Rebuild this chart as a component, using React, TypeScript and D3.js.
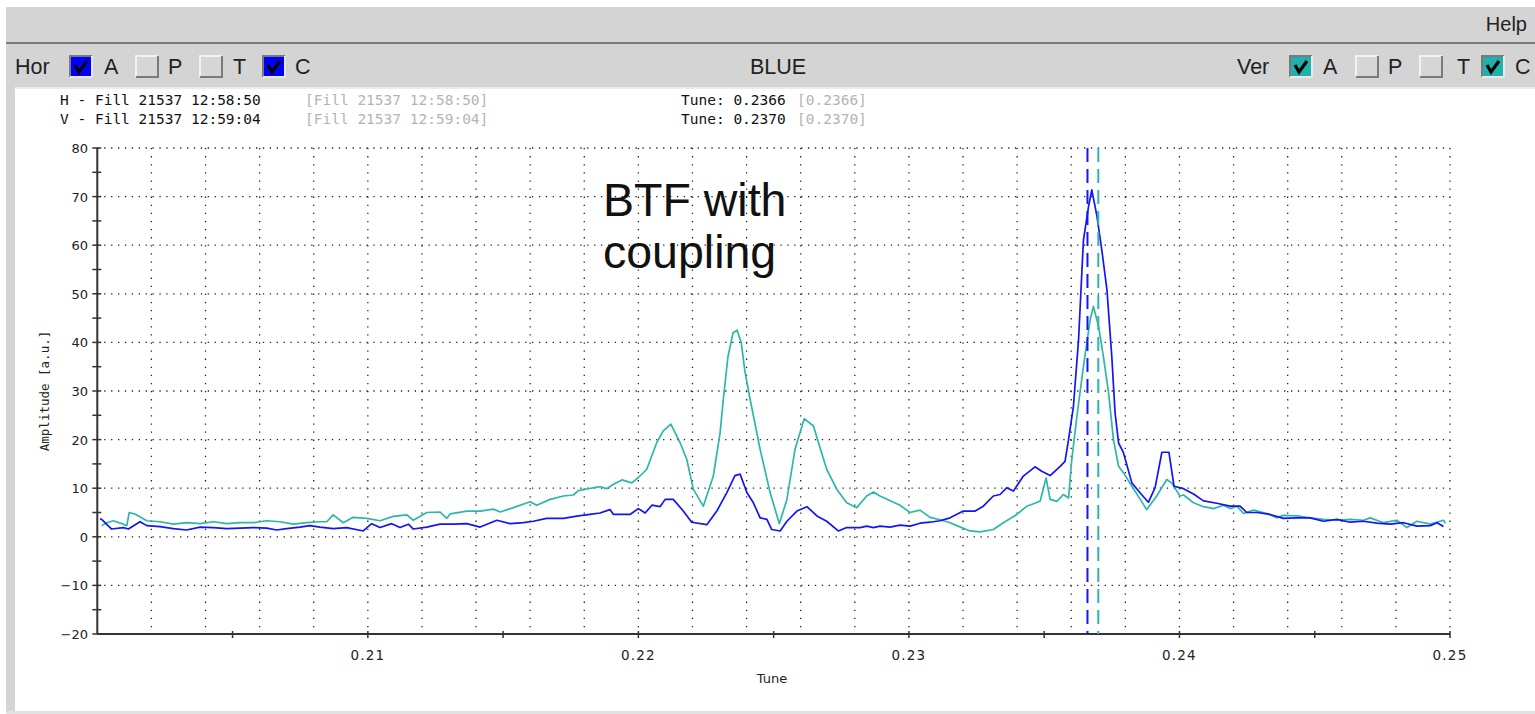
import * as d3 from 'd3';

// horizontal (blue) and vertical (teal) BTF amplitude vs tune
const hData: [number, number][] = [
  [0.2001, 3.7], [0.20016, 3.6], [0.20053, 1.6], [0.20096, 1.9], [0.20115, 1.6], [0.20158, 3.1],
  [0.20183, 2.3], [0.20232, 2.1], [0.20281, 1.7], [0.2033, 1.4], [0.2038, 2.0], [0.20429, 1.9],
  [0.20478, 1.7], [0.20528, 1.8], [0.20577, 1.9], [0.20626, 1.8], [0.20663, 1.4], [0.207, 1.7],
  [0.20749, 2.0], [0.20786, 2.3], [0.20823, 2.0], [0.20872, 1.7], [0.20922, 1.9], [0.20983, 1.2],
  [0.21014, 2.7], [0.21045, 1.9], [0.21088, 2.7], [0.21119, 1.9], [0.2115, 2.6], [0.21168, 1.6],
  [0.21218, 2.0], [0.21267, 2.6], [0.21316, 2.6], [0.21366, 2.7], [0.21415, 2.0], [0.21477, 3.4],
  [0.21526, 2.7], [0.21575, 2.9], [0.21612, 3.2], [0.21661, 3.8], [0.21723, 3.8], [0.21778, 4.3],
  [0.21821, 4.6], [0.21858, 4.9], [0.21895, 5.6], [0.21908, 4.6], [0.21969, 4.6], [0.22, 5.8],
  [0.22025, 4.9], [0.2205, 6.5], [0.2208, 6.2], [0.22099, 7.7], [0.22129, 7.7], [0.22166, 5.3],
  [0.22197, 3.0], [0.22253, 2.5], [0.2229, 5.3], [0.22327, 9.1], [0.22357, 12.6], [0.22376, 12.9],
  [0.22401, 9.1], [0.22425, 7.0], [0.2245, 3.9], [0.22475, 3.6], [0.22493, 1.5], [0.22524, 1.2],
  [0.22549, 3.2], [0.22586, 5.3], [0.22623, 6.2], [0.2266, 4.3], [0.22696, 3.2], [0.22739, 1.2],
  [0.2277, 1.9], [0.2282, 1.9], [0.22844, 2.2], [0.22869, 1.9], [0.22893, 2.2], [0.2293, 2.0],
  [0.22967, 2.4], [0.23004, 2.2], [0.23041, 2.8], [0.23078, 3.0], [0.23115, 3.3], [0.23152, 3.9],
  [0.23201, 5.3], [0.23245, 5.3], [0.23275, 6.3], [0.23312, 8.4], [0.23337, 8.7], [0.23362, 10.1],
  [0.23386, 9.4], [0.23423, 12.5], [0.23466, 14.4], [0.23491, 13.5], [0.23522, 12.6], [0.23559, 14.5],
  [0.23577, 15.5], [0.2359, 20.0], [0.23608, 26.8], [0.23627, 40.5], [0.23645, 61.0], [0.23664, 68.0],
  [0.23676, 71.4], [0.23695, 66.0], [0.23713, 59.0], [0.23732, 50.8], [0.2375, 37.0], [0.23762, 25.5],
  [0.23775, 19.3], [0.23793, 17.3], [0.23824, 11.1], [0.23855, 9.0], [0.23885, 7.1], [0.2391, 10.1],
  [0.23935, 17.4], [0.23961, 17.4], [0.2398, 10.4], [0.24015, 9.9], [0.24052, 8.8], [0.24089, 7.4],
  [0.24138, 6.9], [0.24187, 6.3], [0.24224, 6.3], [0.24249, 5.0], [0.24286, 5.0], [0.24335, 4.6],
  [0.24384, 3.8], [0.24434, 3.9], [0.24483, 3.9], [0.24532, 3.2], [0.24582, 3.6], [0.24631, 3.0],
  [0.2468, 3.2], [0.2473, 2.8], [0.24779, 2.6], [0.24828, 2.9], [0.24878, 2.2], [0.24927, 2.3],
  [0.24952, 2.9], [0.24976, 2.1],
];

const vData: [number, number][] = [
  [0.20016, 2.3], [0.20035, 2.9], [0.20059, 3.3], [0.20096, 2.6], [0.20109, 2.3], [0.20118, 5.0],
  [0.20139, 4.7], [0.20183, 3.3], [0.20232, 3.1], [0.20281, 2.6], [0.2033, 2.9], [0.2038, 2.7],
  [0.20429, 3.1], [0.20478, 2.7], [0.20528, 2.9], [0.20577, 2.9], [0.20626, 3.3], [0.20675, 3.1],
  [0.20725, 2.6], [0.20774, 2.9], [0.20823, 3.1], [0.20848, 3.1], [0.20872, 4.5], [0.20909, 2.9],
  [0.20946, 4.0], [0.20996, 3.8], [0.21045, 3.3], [0.21094, 4.2], [0.21144, 4.5], [0.21168, 3.4],
  [0.21218, 5.0], [0.21267, 5.1], [0.21292, 3.8], [0.21304, 4.7], [0.21366, 5.3], [0.21415, 5.3],
  [0.21464, 5.7], [0.21489, 5.1], [0.21538, 6.0], [0.216, 7.2], [0.21624, 6.5], [0.21674, 7.7],
  [0.21723, 8.4], [0.2176, 8.6], [0.21778, 9.5], [0.21834, 10.1], [0.21858, 10.3], [0.21883, 9.9],
  [0.21908, 10.8], [0.21939, 11.7], [0.21976, 11.1], [0.22, 12.2], [0.22031, 13.9], [0.22068, 19.4],
  [0.22092, 21.8], [0.2212, 23.2], [0.22154, 19.4], [0.22179, 15.9], [0.22203, 9.8], [0.2224, 6.3],
  [0.22277, 12.5], [0.22302, 21.4], [0.22314, 28.3], [0.22331, 37.0], [0.2235, 42.0], [0.22365, 42.5],
  [0.2238, 40.0], [0.22394, 34.0], [0.22413, 28.3], [0.2245, 18.0], [0.22487, 9.1], [0.22521, 2.7],
  [0.22549, 7.7], [0.22579, 18.0], [0.22613, 24.3], [0.22647, 22.8], [0.22696, 13.9], [0.22733, 9.8],
  [0.2277, 7.0], [0.22807, 6.0], [0.22844, 8.4], [0.22869, 9.2], [0.22893, 8.4], [0.22967, 6.5],
  [0.23004, 5.0], [0.23041, 5.5], [0.23078, 4.0], [0.23115, 3.5], [0.23152, 2.9], [0.23177, 2.3],
  [0.23226, 1.2], [0.23263, 1.0], [0.23312, 1.5], [0.23349, 2.9], [0.23399, 4.6], [0.23436, 6.3],
  [0.23485, 7.3], [0.23507, 12.1], [0.23522, 7.7], [0.23547, 7.3], [0.23571, 8.7], [0.2359, 8.0],
  [0.23602, 15.9], [0.23621, 24.8], [0.23645, 35.0], [0.2367, 44.7], [0.23682, 47.4], [0.23701, 43.3],
  [0.23719, 37.0], [0.23738, 29.6], [0.23756, 20.0], [0.23775, 14.5], [0.23793, 13.2], [0.23824, 10.4],
  [0.23855, 7.7], [0.23879, 5.6], [0.23916, 8.4], [0.23953, 11.8], [0.23971, 11.1], [0.24002, 8.4],
  [0.24015, 8.6], [0.24052, 7.0], [0.24089, 6.2], [0.24126, 5.8], [0.24163, 6.5], [0.24187, 5.8],
  [0.24212, 6.3], [0.24237, 4.8], [0.24274, 5.5], [0.24323, 4.8], [0.2436, 3.9], [0.24384, 4.4],
  [0.24434, 4.3], [0.24483, 3.9], [0.24532, 3.6], [0.24582, 3.4], [0.24631, 3.6], [0.2468, 3.4],
  [0.24705, 3.9], [0.24754, 2.9], [0.24804, 3.4], [0.24841, 1.9], [0.24878, 3.2], [0.24927, 2.6],
  [0.24976, 3.4], [0.24983, 2.8],
];

const hTune = 0.2366;
const vTune = 0.237;
const xTickLabels = [0.21, 0.22, 0.23, 0.24, 0.25];
const yTickLabels = [-20, -10, 0, 10, 20, 30, 40, 50, 60, 70, 80];

const BLUE = '#1414f5';
const TEAL = '#2db7a9';
const mono = '"DejaVu Sans Mono", monospace';
const sans = '"Liberation Sans", Arial, sans-serif';

const Check = ({ x, y, on, fill }: { x: number; y: number; on: boolean; fill: string }) => (
  <g transform={`translate(${x},${y})`}>
    <rect x={0} y={0} width={22} height={21} fill={on ? fill : '#d6d6d6'} />
    <path d="M0,21 V0 H22" fill="none" stroke={on ? '#7a7a7a' : '#f2f2f2'} strokeWidth={2} />
    <path d="M0,21 H22 V0" fill="none" stroke={on ? '#e8e8e8' : '#7a7a7a'} strokeWidth={2} />
    {on && <path d="M5,9 L9,16 L17,5" fill="none" stroke="#000" strokeWidth={3.2} />}
  </g>
);

const App = () => {
  const x = d3.scaleLinear().domain([0.2, 0.25]).range([97.3, 1450]);
  const y = d3.scaleLinear().domain([-20, 80]).range([634, 148]);
  const line = d3.line<[number, number]>().x(d => x(d[0])).y(d => y(d[1]));

  const vGrid = d3.range(1, 26).map(i => 0.2 + i * 0.002);
  const hGrid = d3.range(-10, 81, 10);
  const xTicks = d3.range(1, 11).map(i => 0.2 + i * 0.005);
  const yTicks = d3.range(-20, 81, 5);

  const hor = [
    { label: 'A', on: true, bx: 70, tx: 104 },
    { label: 'P', on: false, bx: 136, tx: 168 },
    { label: 'T', on: false, bx: 200, tx: 233 },
    { label: 'C', on: true, bx: 263, tx: 295 },
  ];
  const ver = [
    { label: 'A', on: true, bx: 1290, tx: 1323 },
    { label: 'P', on: false, bx: 1356, tx: 1388 },
    { label: 'T', on: false, bx: 1420, tx: 1457 },
    { label: 'C', on: true, bx: 1482, tx: 1515 },
  ];

  return (
    <svg width={1535} height={714} style={{ position: 'absolute', left: 0, top: 0, background: '#fff' }}>
      {/* window chrome */}
      <rect x={6} y={7} width={1529} height={36} fill="#d4d4d4" />
      <rect x={6} y={42} width={1529} height={2} fill="#7c7c7c" />
      <rect x={6} y={44} width={1529} height={44} fill="#d4d4d4" />
      <rect x={15} y={87} width={1520} height={2} fill="#ececec" />
      <rect x={6} y={88} width={9} height={626} fill="#d4d4d4" />
      <rect x={6} y={711} width={1529} height={3} fill="#e2e2e2" />
      <text x={1527} y={31} textAnchor="end" fontFamily={sans} fontSize={20} fill="#222">Help</text>

      <text x={15} y={74} fontFamily={sans} fontSize={21.5} fill="#222">Hor</text>
      {hor.map(c => (
        <g key={'h' + c.label}>
          <Check x={c.bx} y={56} on={c.on} fill="#0000ff" />
          <text x={c.tx} y={74} fontFamily={sans} fontSize={21.5} fill="#222">{c.label}</text>
        </g>
      ))}
      <text x={778} y={74} textAnchor="middle" fontFamily={sans} fontSize={21.5} fill="#222">BLUE</text>
      <text x={1237} y={74} fontFamily={sans} fontSize={21.5} fill="#222">Ver</text>
      {ver.map(c => (
        <g key={'v' + c.label}>
          <Check x={c.bx} y={56} on={c.on} fill="#20b2aa" />
          <text x={c.tx} y={74} fontFamily={sans} fontSize={21.5} fill="#222">{c.label}</text>
        </g>
      ))}

      {/* info lines */}
      <g fontFamily={mono} fontSize={14.5}>
        <text x={60} y={105} fill="#111">H - Fill 21537 12:58:50</text>
        <text x={305} y={105} fill="#b4b4b4">[Fill 21537 12:58:50]</text>
        <text x={681} y={105} fill="#111">Tune: 0.2366</text>
        <text x={797} y={105} fill="#b4b4b4">[0.2366]</text>
        <text x={60} y={124} fill="#111">V - Fill 21537 12:59:04</text>
        <text x={305} y={124} fill="#b4b4b4">[Fill 21537 12:59:04]</text>
        <text x={681} y={124} fill="#111">Tune: 0.2370</text>
        <text x={797} y={124} fill="#b4b4b4">[0.2370]</text>
      </g>

      {/* grid */}
      {hGrid.map(v => (
        <line key={'hg' + v} x1={x(0.2)} x2={x(0.25)} y1={y(v)} y2={y(v)}
          stroke="#222" strokeWidth={1.3} strokeDasharray="1.3,5.6" />
      ))}
      {vGrid.map(t => (
        <line key={'vg' + t} x1={x(t)} x2={x(t)} y1={y(80)} y2={y(-20)}
          stroke="#222" strokeWidth={1.3} strokeDasharray="1.3,6.8" />
      ))}

      {/* axes */}
      <line x1={x(0.2)} x2={x(0.2)} y1={y(80)} y2={y(-20)} stroke="#333" strokeWidth={2} />
      <line x1={x(0.2)} x2={x(0.25)} y1={y(-20)} y2={y(-20)} stroke="#333" strokeWidth={2} />
      {yTicks.map(v => (
        <line key={'yt' + v} x1={x(0.2) - 5} x2={x(0.2) + 4} y1={y(v)} y2={y(v)} stroke="#333" strokeWidth={1.5} />
      ))}
      {xTicks.map(t => (
        <line key={'xt' + t} x1={x(t)} x2={x(t)} y1={y(-20) - 3} y2={y(-20) + 4} stroke="#333" strokeWidth={1.5} />
      ))}
      {yTickLabels.map(v => (
        <text key={'yl' + v} x={88} y={y(v) + 5} textAnchor="end" fontFamily='"DejaVu Sans", sans-serif'
          fontSize={13} fill="#222">{v < 0 ? '\u2212' + Math.abs(v) : v}</text>
      ))}
      {xTickLabels.map(t => (
        <text key={'xl' + t} x={x(t)} y={660} textAnchor="middle" fontFamily='"DejaVu Sans", sans-serif'
          fontSize={13.5} letterSpacing={1.2} fill="#222">{d3.format('.2f')(t)}</text>
      ))}
      <text x={772} y={683} textAnchor="middle" fontFamily='"DejaVu Sans", sans-serif' fontSize={13} fill="#222">Tune</text>
      <text transform="translate(49,391) rotate(-90)" textAnchor="middle" fontFamily={mono} fontSize={12.5} fill="#222">Amplitude [a.u.]</text>

      {/* data */}
      <path d={line(vData) || ''} fill="none" stroke={TEAL} strokeWidth={1.7} strokeLinejoin="round" />
      <path d={line(hData) || ''} fill="none" stroke={BLUE} strokeWidth={1.7} strokeLinejoin="round" />

      {/* tune markers */}
      <line x1={x(hTune)} x2={x(hTune)} y1={y(80)} y2={y(-20)} stroke={BLUE} strokeWidth={2} strokeDasharray="14,7" />
      <line x1={x(vTune)} x2={x(vTune)} y1={y(80)} y2={y(-20)} stroke={TEAL} strokeWidth={2} strokeDasharray="14,7" />

      {/* annotation */}
      <text x={603} y={216} fontFamily={sans} fontSize={46.5} fill="#111">BTF with</text>
      <text x={603} y={268} fontFamily={sans} fontSize={46.5} fill="#111">coupling</text>
    </svg>
  );
};

export default App;
